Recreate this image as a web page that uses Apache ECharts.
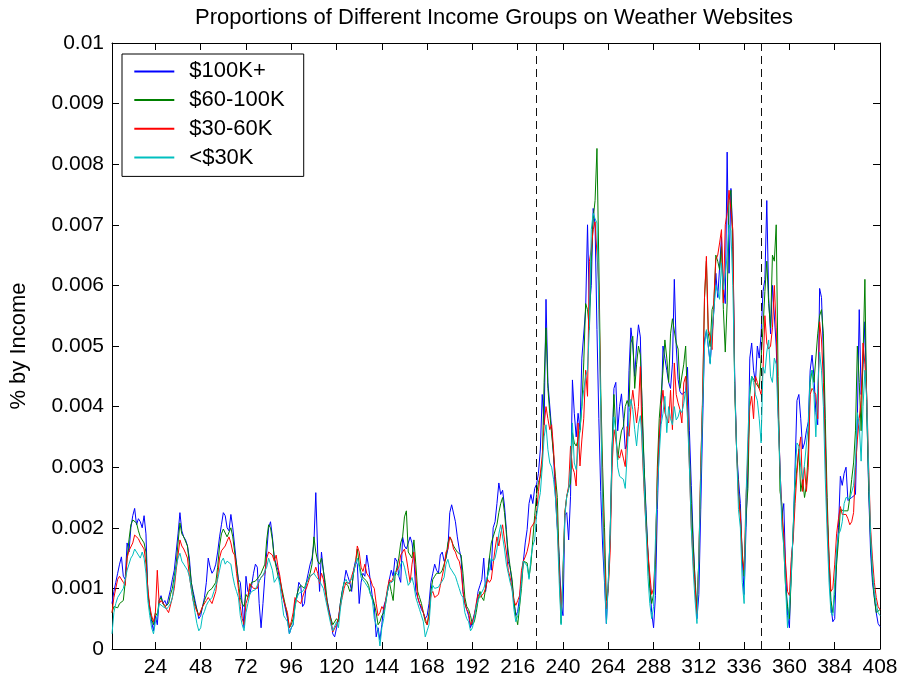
<!DOCTYPE html>
<html>
<head>
<meta charset="utf-8">
<script src="https://cdn.jsdelivr.net/npm/echarts@6/dist/echarts.min.js"></script>
<style>
  html, body { margin: 0; padding: 0; background: #ffffff; }
  #chart { width: 903px; height: 685px; }
</style>
</head>
<body>
<div id="chart"></div>
<script>
// Hourly share of weather-site visits by household income, 17 days x 24 hours.
// Each row is one day; values are in units of 1e-5 (232 -> 0.00232).
const seriesNames = ['$100K+', '$60-100K', '$30-60K', '<$30K'];
const seriesColors = ['#0000ff', '#008000', '#ff0000', '#00bfbf'];
const xTickHours = [24, 48, 72, 96, 120, 144, 168, 192, 216, 240, 264, 288, 312, 336, 360, 384, 408];
const markerHours = [226, 345];

const income100kPlus = [
  [75,95,110,125,140,152,120,115,175,160,200,220,232,205,215,210,200,220,190,90,70,45,30,55],
  [40,80,88,75,80,72,70,98,115,130,160,190,225,195,185,180,170,150,110,95,80,65,50,55],
  [55,85,110,150,135,125,130,140,160,185,205,225,220,200,195,222,200,170,140,115,110,75,35,120],
  [95,90,105,125,140,135,75,35,75,120,160,200,210,185,150,140,130,130,95,80,65,50,25,35],
  [40,80,85,110,105,70,75,110,125,140,150,175,258,160,95,160,130,100,80,65,50,25,20,35],
  [50,75,95,110,130,120,110,95,130,145,140,75,110,125,120,155,135,110,85,70,20,35,15,40],
  [70,80,95,115,130,120,150,145,120,110,185,170,165,175,185,175,150,95,85,75,65,60,50,55],
  [75,110,125,140,130,125,155,160,145,150,165,225,238,235,210,185,165,150,95,75,65,55,35,45],
  [45,70,95,105,115,150,95,120,150,130,200,210,240,274,255,262,236,197,144,134,110,77,55,62],
  [85,115,145,175,197,240,255,240,265,272,290,330,420,370,577,440,440,362,320,252,200,153,75,55],
  [220,225,180,252,444,389,350,389,362,480,480,560,700,560,600,727,700,527,380,260,170,110,42,110],
  [190,320,430,440,360,400,421,380,330,340,460,530,500,450,500,535,515,380,300,230,160,110,60,35],
  [88,230,345,383,500,480,460,440,430,470,610,500,445,425,420,420,425,465,360,270,180,110,50,90],
  [230,370,510,525,500,472,472,560,620,580,582,680,600,570,820,620,760,680,450,330,280,240,150,90],
  [200,300,480,505,460,440,500,480,520,590,610,740,580,520,600,600,500,400,300,220,240,130,55,35],
  [140,190,300,410,420,380,330,340,360,375,460,485,450,390,370,595,580,490,350,220,140,70,45,50],
  [150,200,285,270,290,300,245,245,250,250,255,380,560,420,470,540,400,260,160,110,85,60,42,37]
];

const income60to100k = [
  [60,70,72,68,75,72,80,110,150,180,205,213,215,208,195,185,188,175,160,95,65,50,40,60],
  [55,80,85,75,70,72,75,90,100,120,140,175,208,190,185,188,170,140,110,90,75,65,55,60],
  [70,80,88,95,98,100,102,110,135,170,190,198,195,185,188,200,185,160,140,110,85,75,70,90],
  [85,100,110,108,112,115,120,125,125,140,180,205,200,180,150,135,120,115,100,85,70,55,35,40],
  [50,70,90,100,105,105,100,110,115,125,140,185,160,145,140,150,130,110,80,60,50,40,40,50],
  [45,75,95,110,112,105,95,100,125,140,165,140,125,118,115,112,105,90,85,75,60,40,45,55],
  [60,75,95,110,95,80,120,135,150,175,185,218,228,160,155,150,180,140,95,85,75,60,45,40],
  [60,95,115,120,125,122,125,130,140,150,175,185,178,170,165,160,158,155,125,85,70,65,55,40],
  [45,60,80,95,85,80,100,120,150,175,185,195,205,225,240,250,225,190,160,135,115,80,55,40],
  [70,100,145,145,142,118,140,180,220,255,275,285,305,440,530,430,389,355,320,285,250,140,42,130],
  [225,252,265,274,357,340,335,345,360,400,472,570,560,527,640,710,740,826,637,430,300,200,80,100],
  [190,330,420,360,312,340,360,367,400,410,400,505,516,430,470,500,485,400,300,220,160,100,75,90],
  [140,300,380,420,460,510,480,440,520,545,548,505,495,430,430,470,500,400,320,240,170,115,65,150],
  [300,410,580,640,521,499,560,570,650,640,626,664,560,490,571,740,757,664,430,330,260,220,160,120],
  [220,265,420,450,450,440,440,430,480,530,590,640,570,530,650,640,700,450,260,240,170,100,70,50],
  [120,200,265,300,330,260,280,250,270,330,440,460,440,440,520,550,560,520,380,250,150,80,60,90],
  [140,180,230,230,228,230,228,250,280,307,360,500,440,360,480,610,390,270,180,120,85,60,60,65]
];

const income30to60k = [
  [60,85,100,115,120,118,110,105,150,162,165,175,188,190,182,175,170,165,140,100,70,55,45,60],
  [130,75,80,78,72,65,60,62,85,100,130,155,180,170,165,158,150,120,100,80,70,62,55,55],
  [70,72,80,85,80,75,78,95,120,150,162,165,170,178,185,175,160,155,125,100,70,50,40,75],
  [85,108,105,100,97,100,112,118,115,125,150,160,162,155,145,155,135,120,95,80,70,60,35,45],
  [60,85,80,78,75,85,95,100,110,120,120,125,135,125,108,125,115,95,75,60,45,28,30,40],
  [50,70,85,100,110,112,108,120,130,140,170,160,135,128,140,125,120,115,105,100,75,55,60,70],
  [65,80,100,115,110,112,125,130,135,155,160,165,150,130,110,140,160,120,85,75,70,60,50,40],
  [55,90,95,85,82,90,105,120,135,160,165,185,180,165,160,150,145,130,95,75,65,60,40,45],
  [55,75,90,85,88,92,100,115,110,115,140,165,185,170,190,205,180,160,130,118,115,80,72,80],
  [88,130,145,152,161,175,200,203,210,225,260,290,318,370,400,380,362,370,330,270,208,130,60,120],
  [225,252,269,335,300,291,269,373,302,345,380,460,417,640,660,692,705,708,600,400,250,150,66,100],
  [160,300,362,345,320,315,329,315,301,367,351,400,427,400,373,400,466,330,260,200,160,124,90,100],
  [160,280,350,400,427,390,380,373,427,362,472,420,406,395,373,439,450,400,300,200,144,100,58,150],
  [300,420,580,648,527,516,494,580,642,650,670,692,571,700,719,757,760,692,440,330,252,220,150,130],
  [250,320,400,417,380,450,440,430,420,460,550,505,495,500,530,600,530,400,300,220,190,140,95,88],
  [150,180,240,290,330,350,260,300,260,300,420,430,425,420,380,540,510,440,330,220,150,95,100,140],
  [190,215,235,222,225,222,215,205,210,225,300,345,380,410,505,470,420,300,200,150,110,85,70,65]
];

const incomeUnder30k = [
  [25,60,75,85,88,95,100,115,130,140,150,155,165,165,155,150,160,150,125,80,55,35,25,45],
  [55,75,72,70,68,66,70,75,85,110,135,150,158,145,140,135,130,120,100,80,60,42,30,35],
  [55,62,72,78,80,85,95,105,115,130,145,150,140,145,148,140,120,105,95,85,55,40,30,60],
  [75,90,95,92,98,100,112,118,122,125,135,150,148,130,110,115,120,105,80,55,50,45,25,35],
  [40,70,85,92,90,95,100,108,115,120,122,125,120,118,112,115,100,85,70,55,40,30,30,45],
  [35,65,90,110,115,108,105,115,125,140,150,135,118,115,110,108,100,90,80,50,50,30,5,35],
  [50,75,95,108,110,112,128,125,120,140,145,135,120,105,110,118,105,85,75,65,55,45,20,30],
  [40,85,105,100,100,102,108,112,118,140,148,135,130,128,120,110,100,90,85,60,50,45,30,35],
  [50,70,80,88,90,100,110,120,130,150,145,150,165,190,205,185,165,140,125,110,99,65,45,55],
  [75,110,145,142,137,115,150,170,180,220,241,258,300,350,370,329,307,300,280,250,197,110,40,120],
  [219,252,263,300,373,307,296,330,362,400,428,450,461,530,692,719,710,703,560,400,225,120,42,110],
  [186,330,383,360,300,285,282,280,265,320,390,412,395,362,335,370,385,340,270,200,120,75,50,70],
  [180,260,320,370,389,417,357,400,380,370,400,378,383,395,390,405,428,380,300,200,130,80,42,150],
  [280,400,500,527,499,470,527,560,600,600,577,637,593,620,648,700,690,600,440,330,230,200,110,75],
  [250,350,430,450,440,420,410,380,340,465,455,490,510,450,440,480,470,380,300,200,170,100,35,75],
  [120,200,290,340,335,300,280,305,305,370,450,460,420,350,430,490,460,400,280,190,110,60,55,110],
  [165,190,195,210,240,250,250,248,245,270,310,390,370,310,400,460,410,290,190,130,95,75,60,55]
];

const seriesRows = [income100kPlus, income60to100k, income30to60k, incomeUnder30k];

// Flatten the day rows into [hour, share] pairs; hours run 1..408.
function toPoints(days) {
  const flat = [].concat(...days);
  return flat.map((v, i) => [i + 1, v / 1e5]);
}

const FONT = "'Liberation Sans', Arial, Helvetica, sans-serif";
const TITLE_TEXT = 'Proportions of Different Income Groups on Weather Websites';
const TITLE_SIZE = 22;

// Centre the title over the plot area (x ≈ 494) rather than the whole canvas.
function measure(text, size) {
  const ctx = document.createElement('canvas').getContext('2d');
  ctx.font = size + 'px ' + FONT;
  return ctx.measureText(text).width;
}
const titleLeft = Math.round(494 - measure(TITLE_TEXT, TITLE_SIZE) / 2);

const series = seriesNames.map((name, k) => {
  const s = {
    name: name,
    type: 'line',
    data: toPoints(seriesRows[k]),
    showSymbol: false,
    symbol: 'none',
    lineStyle: { width: 1, color: seriesColors[k] },
    itemStyle: { color: seriesColors[k] },
    emphasis: { disabled: true },
    z: 2 + k
  };
  if (k === 0) {
    s.markLine = {
      silent: true,
      symbol: 'none',
      label: { show: false },
      lineStyle: { color: '#111111', type: [8, 5], width: 1 },
      emphasis: { disabled: true },
      data: markerHours.map(h => ({ xAxis: h }))
    };
  }
  return s;
});

const chart = echarts.init(document.getElementById('chart'), null, { renderer: 'canvas' });

chart.setOption({
  animation: false,
  backgroundColor: '#ffffff',
  textStyle: { fontFamily: FONT },
  title: {
    text: TITLE_TEXT,
    left: titleLeft,
    top: 0,
    padding: [7, 0, 0, 0],
    textStyle: { fontFamily: FONT, fontSize: TITLE_SIZE, fontWeight: 'normal', color: '#000000' }
  },
  legend: {
    data: seriesNames,
    orient: 'vertical',
    left: 122,
    top: 54,
    icon: 'rect',
    itemWidth: 40,
    itemHeight: 2,
    itemGap: 6.7,
    selectedMode: false,
    padding: [6.4, 19, 7.9, 12.3],
    backgroundColor: '#ffffff',
    borderColor: '#000000',
    borderWidth: 1,
    formatter: name => '{t|' + name + '}',
    textStyle: {
      fontFamily: FONT,
      fontSize: 22,
      lineHeight: 22,
      color: '#000000',
      rich: { t: { fontFamily: FONT, fontSize: 22, lineHeight: 22, color: '#000000', padding: [0, 0, 0, 10] } }
    }
  },
  grid: { left: 111, right: 23, top: 43, bottom: 36, containLabel: false },
  xAxis: [
    {
      type: 'value',
      min: 1,
      max: 408,
      position: 'bottom',
      axisLine: { show: true, onZero: false, lineStyle: { color: '#000000', width: 1 } },
      axisTick: { show: true, inside: true, length: 7, customValues: xTickHours, lineStyle: { color: '#000000' } },
      axisLabel: { show: true, customValues: xTickHours, margin: 8, fontFamily: FONT, fontSize: 21, color: '#000000' },
      splitLine: { show: false }
    },
    {
      type: 'value',
      min: 1,
      max: 408,
      position: 'top',
      axisLine: { show: true, onZero: false, lineStyle: { color: '#000000', width: 1 } },
      axisTick: { show: true, inside: true, length: 7, customValues: xTickHours, lineStyle: { color: '#000000' } },
      axisLabel: { show: false },
      splitLine: { show: false }
    }
  ],
  yAxis: [
    {
      type: 'value',
      min: 0,
      max: 0.01,
      interval: 0.001,
      position: 'left',
      name: '% by Income',
      nameLocation: 'middle',
      nameRotate: 90,
      nameGap: 82,
      nameTextStyle: { fontFamily: FONT, fontSize: 22, color: '#000000' },
      axisLine: { show: true, onZero: false, lineStyle: { color: '#000000', width: 1 } },
      axisTick: { show: true, inside: true, length: 7, lineStyle: { color: '#000000' } },
      axisLabel: { show: true, margin: 8, fontFamily: FONT, fontSize: 21, color: '#000000' },
      splitLine: { show: false }
    },
    {
      type: 'value',
      min: 0,
      max: 0.01,
      interval: 0.001,
      position: 'right',
      axisLine: { show: true, onZero: false, lineStyle: { color: '#000000', width: 1 } },
      axisTick: { show: true, inside: true, length: 7, lineStyle: { color: '#000000' } },
      axisLabel: { show: false },
      splitLine: { show: false }
    }
  ],
  series: series
});
</script>
</body>
</html>
